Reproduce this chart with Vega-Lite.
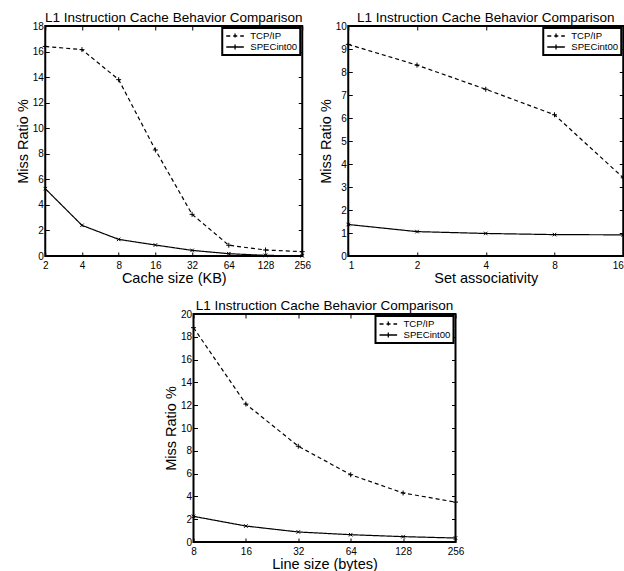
{
  "$schema": "https://vega.github.io/schema/vega-lite/v6.json",
  "background": "white",
  "padding": {"left": 14, "top": 9, "right": 0, "bottom": 0},
  "config": {
    "font": "Liberation Sans, Arial",
    "view": {"stroke": "black", "strokeWidth": 2},
    "axis": {
      "domain": false, "grid": false,
      "tickColor": "black", "tickSize": -4, "tickWidth": 1,
      "labelFont": "Liberation Sans, Arial",
      "labelFontSize": 10, "labelColor": "black", "labelFlush": false,
      "titleFont": "Liberation Sans, Arial",
      "titleFontSize": 14.5, "titleFontWeight": "normal", "titleColor": "black"
    },
    "axisX": {"labelPadding": 8, "titlePadding": 1},
    "axisY": {"labelPadding": 6, "titlePadding": 2},
    "title": {"font": "Liberation Sans, Arial", "fontSize": 13.5, "fontWeight": "normal", "color": "black", "offset": -3, "anchor": "middle"},
    "legend": {
      "orient": "top-right", "offset": 2, "title": null,
      "strokeColor": "black", "strokeWidth": 2, "fillColor": "white", "padding": 3,
      "labelFont": "Liberation Sans, Arial",
      "labelFontSize": 9.6, "labelColor": "black", "labelOffset": 15,
      "symbolSize": 64, "rowPadding": 1,
      "symbolType": "M1.2,-0.6V0.6M-1,0H3.4",
      "symbolStrokeColor": "black", "symbolStrokeWidth": 1.3, "symbolFillColor": "transparent"
    }
  },
  "center": true,
  "spacing": 11,
  "resolve": {"scale": {"strokeDash": "independent"}, "legend": {"strokeDash": "independent"}},
  "vconcat": [
    {
      "spacing": 4,
      "resolve": {"scale": {"strokeDash": "independent"}, "legend": {"strokeDash": "independent"}},
      "hconcat": [
        {
          "title": "L1 Instruction Cache Behavior Comparison",
          "width": 257, "height": 230,
          "data": {"values": [
            {"series": "TCP/IP", "x": 2, "y": 16.4},
            {"series": "TCP/IP", "x": 4, "y": 16.15},
            {"series": "TCP/IP", "x": 8, "y": 13.8},
            {"series": "TCP/IP", "x": 16, "y": 8.3},
            {"series": "TCP/IP", "x": 32, "y": 3.26},
            {"series": "TCP/IP", "x": 64, "y": 0.84},
            {"series": "TCP/IP", "x": 128, "y": 0.47},
            {"series": "TCP/IP", "x": 256, "y": 0.34},
            {"series": "SPECint00", "x": 2, "y": 5.27},
            {"series": "SPECint00", "x": 4, "y": 2.4},
            {"series": "SPECint00", "x": 8, "y": 1.3},
            {"series": "SPECint00", "x": 16, "y": 0.86},
            {"series": "SPECint00", "x": 32, "y": 0.44},
            {"series": "SPECint00", "x": 64, "y": 0.18},
            {"series": "SPECint00", "x": 128, "y": 0.05},
            {"series": "SPECint00", "x": 256, "y": 0.01}
          ]},
          "resolve": {"scale": {"x": "independent", "y": "independent"}},
          "layer": [
            {
              "mark": {"type": "line", "color": "black", "strokeWidth": 1.2},
              "encoding": {
                "x": {"field": "x", "type": "quantitative", "scale": {"type": "log", "base": 2, "domain": [2, 256]},
                      "axis": {"values": [2, 4, 8, 16, 32, 64, 128, 256], "title": "Cache size (KB)"}},
                "y": {"field": "y", "type": "quantitative", "scale": {"domain": [0, 18]},
                      "axis": {"values": [0, 2, 4, 6, 8, 10, 12, 14, 16, 18], "title": "Miss Ratio %"}},
                "strokeDash": {"field": "series", "type": "nominal",
                  "scale": {"domain": ["TCP/IP", "SPECint00"], "range": [[4, 3], [1, 0]]}}
              }
            },
            {
              "mark": {"type": "point", "filled": false, "stroke": "black", "strokeWidth": 1, "size": 25, "opacity": 1},
              "encoding": {
                "x": {"field": "x", "type": "quantitative", "scale": {"type": "log", "base": 2, "domain": [2, 256]},
                      "axis": {"orient": "top", "values": [2, 4, 8, 16, 32, 64, 128, 256], "labels": false, "title": null}},
                "y": {"field": "y", "type": "quantitative", "scale": {"domain": [0, 18]},
                      "axis": {"orient": "right", "values": [0, 2, 4, 6, 8, 10, 12, 14, 16, 18], "labels": false, "title": null}},
                "shape": {"condition": {"test": "datum.series === 'TCP/IP'", "value": "M-1,0H1M0,-1V1"}, "value": "M-0.7,-0.7L0.7,0.7M-0.7,0.7L0.7,-0.7"}
              }
            }
          ]
        },
        {
          "title": "L1 Instruction Cache Behavior Comparison",
          "width": 275, "height": 230,
          "data": {"values": [
            {"series": "TCP/IP", "x": 1, "y": 9.2},
            {"series": "TCP/IP", "x": 2, "y": 8.3},
            {"series": "TCP/IP", "x": 4, "y": 7.25},
            {"series": "TCP/IP", "x": 8, "y": 6.14},
            {"series": "TCP/IP", "x": 16, "y": 3.4},
            {"series": "SPECint00", "x": 1, "y": 1.37},
            {"series": "SPECint00", "x": 2, "y": 1.06},
            {"series": "SPECint00", "x": 4, "y": 0.98},
            {"series": "SPECint00", "x": 8, "y": 0.93},
            {"series": "SPECint00", "x": 16, "y": 0.92}
          ]},
          "resolve": {"scale": {"x": "independent", "y": "independent"}},
          "layer": [
            {
              "mark": {"type": "line", "color": "black", "strokeWidth": 1.2},
              "encoding": {
                "x": {"field": "x", "type": "quantitative", "scale": {"type": "log", "base": 2, "domain": [1, 16]},
                      "axis": {"values": [1, 2, 4, 8, 16], "title": "Set associativity", "labelFlush": true}},
                "y": {"field": "y", "type": "quantitative", "scale": {"domain": [0, 10]},
                      "axis": {"values": [0, 1, 2, 3, 4, 5, 6, 7, 8, 9, 10], "title": "Miss Ratio %"}},
                "strokeDash": {"field": "series", "type": "nominal",
                  "scale": {"domain": ["TCP/IP", "SPECint00"], "range": [[4, 3], [1, 0]]}}
              }
            },
            {
              "mark": {"type": "point", "filled": false, "stroke": "black", "strokeWidth": 1, "size": 25, "opacity": 1},
              "encoding": {
                "x": {"field": "x", "type": "quantitative", "scale": {"type": "log", "base": 2, "domain": [1, 16]},
                      "axis": {"orient": "top", "values": [1, 2, 4, 8, 16], "labels": false, "title": null}},
                "y": {"field": "y", "type": "quantitative", "scale": {"domain": [0, 10]},
                      "axis": {"orient": "right", "values": [0, 1, 2, 3, 4, 5, 6, 7, 8, 9, 10], "labels": false, "title": null}},
                "shape": {"condition": {"test": "datum.series === 'TCP/IP'", "value": "M-1,0H1M0,-1V1"}, "value": "M-0.7,-0.7L0.7,0.7M-0.7,0.7L0.7,-0.7"}
              }
            }
          ]
        }
      ]
    },
    {
      "title": "L1 Instruction Cache Behavior Comparison",
      "width": 262, "height": 228,
      "data": {"values": [
        {"series": "TCP/IP", "x": 8, "y": 18.8},
        {"series": "TCP/IP", "x": 16, "y": 12.1},
        {"series": "TCP/IP", "x": 32, "y": 8.4},
        {"series": "TCP/IP", "x": 64, "y": 5.9},
        {"series": "TCP/IP", "x": 128, "y": 4.3},
        {"series": "TCP/IP", "x": 256, "y": 3.5},
        {"series": "SPECint00", "x": 8, "y": 2.25},
        {"series": "SPECint00", "x": 16, "y": 1.4},
        {"series": "SPECint00", "x": 32, "y": 0.88},
        {"series": "SPECint00", "x": 64, "y": 0.64},
        {"series": "SPECint00", "x": 128, "y": 0.47},
        {"series": "SPECint00", "x": 256, "y": 0.35}
      ]},
      "resolve": {"scale": {"x": "independent", "y": "independent"}},
      "layer": [
        {
          "mark": {"type": "line", "color": "black", "strokeWidth": 1.2},
          "encoding": {
            "x": {"field": "x", "type": "quantitative", "scale": {"type": "log", "base": 2, "domain": [8, 256]},
                  "axis": {"values": [8, 16, 32, 64, 128, 256], "title": "Line size (bytes)"}},
            "y": {"field": "y", "type": "quantitative", "scale": {"domain": [0, 20]},
                  "axis": {"values": [0, 2, 4, 6, 8, 10, 12, 14, 16, 18, 20], "title": "Miss Ratio %"}},
            "strokeDash": {"field": "series", "type": "nominal",
              "scale": {"domain": ["TCP/IP", "SPECint00"], "range": [[4, 3], [1, 0]]}}
          }
        },
        {
          "mark": {"type": "point", "filled": false, "stroke": "black", "strokeWidth": 1, "size": 25, "opacity": 1},
          "encoding": {
            "x": {"field": "x", "type": "quantitative", "scale": {"type": "log", "base": 2, "domain": [8, 256]},
                  "axis": {"orient": "top", "values": [8, 16, 32, 64, 128, 256], "labels": false, "title": null}},
            "y": {"field": "y", "type": "quantitative", "scale": {"domain": [0, 20]},
                  "axis": {"orient": "right", "values": [0, 2, 4, 6, 8, 10, 12, 14, 16, 18, 20], "labels": false, "title": null, "minExtent": 24}},
            "shape": {"condition": {"test": "datum.series === 'TCP/IP'", "value": "M-1,0H1M0,-1V1"}, "value": "M-0.7,-0.7L0.7,0.7M-0.7,0.7L0.7,-0.7"}
          }
        }
      ]
    }
  ]
}
